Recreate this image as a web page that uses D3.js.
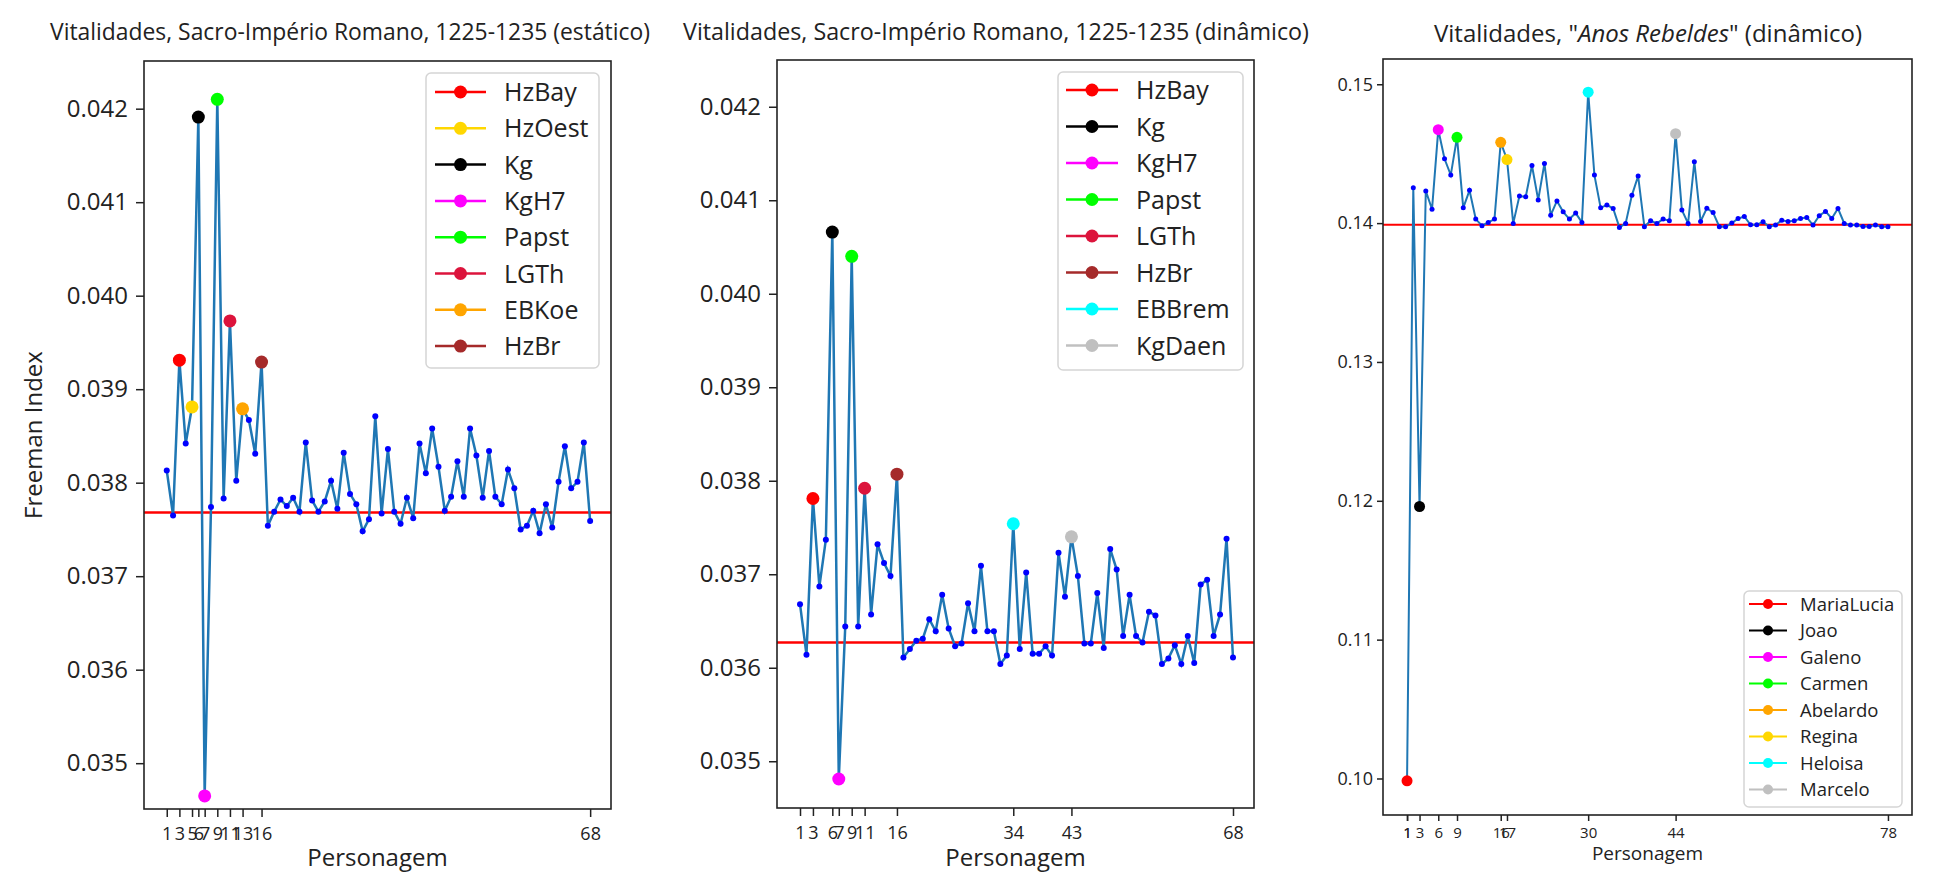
<!DOCTYPE html>
<html>
<head>
<meta charset="utf-8">
<script src="https://cdnjs.cloudflare.com/ajax/libs/d3/7.8.5/d3.min.js"></script>
<style>
body { margin: 0; background: #fff; }
text { font-family: "Open Sans", "Noto Sans", sans-serif; fill: #222; }
</style>
</head>
<body>
<script>
/* DATA */
// Sacro-Imperio Romano, estatico
var staticVals = [0.03813, 0.03765, 0.03931, 0.03842, 0.03881, 0.04191, 0.03465, 0.03774, 0.04210, 0.03783,
  0.03973, 0.03802, 0.03879, 0.03867, 0.03831, 0.03929, 0.03754, 0.03769, 0.03782, 0.03775,
  0.03784, 0.03769, 0.03843, 0.03781, 0.03769, 0.03780, 0.03802, 0.03772, 0.03832, 0.03788,
  0.03777, 0.03748, 0.03761, 0.03871, 0.03767, 0.03836, 0.03769, 0.03756, 0.03784, 0.03762,
  0.03842, 0.03810, 0.03858, 0.03817, 0.03770, 0.03785, 0.03823, 0.03785, 0.03858, 0.03829,
  0.03784, 0.03834, 0.03785, 0.03777, 0.03814, 0.03794, 0.03750, 0.03754, 0.03770, 0.03746,
  0.03777, 0.03752, 0.03801, 0.03839, 0.03794, 0.03801, 0.03843, 0.03759];
var staticMean = 0.03768;
var staticNames = ["HzBay", "HzOest", "Kg", "KgH7", "Papst", "LGTh", "EBKoe", "HzBr"];
var staticPos = [3, 5, 6, 7, 9, 11, 13, 16];
var staticColors = ["#ff0000", "#ffd700", "#000000", "#ff00ff", "#00ff00", "#dc143c", "#ffa500", "#a52a2a"];
var staticTicks = [1, 3, 5, 6, 7, 9, 11, 13, 16, 68];

// Sacro-Imperio Romano, dinamico
var dynVals = [0.03668, 0.03614, 0.03781, 0.03687, 0.03737, 0.04066, 0.03481, 0.03644, 0.04040, 0.03644,
  0.03792, 0.03657, 0.03732, 0.03712, 0.03698, 0.03807, 0.03611, 0.03620, 0.03629, 0.03631,
  0.03652, 0.03639, 0.03678, 0.03642, 0.03623, 0.03626, 0.03669, 0.03639, 0.03709, 0.03639,
  0.03639, 0.03604, 0.03613, 0.03754, 0.03620, 0.03702, 0.03615, 0.03615, 0.03623, 0.03613,
  0.03723, 0.03676, 0.03740, 0.03698, 0.03626, 0.03626, 0.03680, 0.03621, 0.03727, 0.03705,
  0.03634, 0.03678, 0.03634, 0.03627, 0.03660, 0.03656, 0.03604, 0.03610, 0.03624, 0.03604,
  0.03634, 0.03605, 0.03689, 0.03694, 0.03634, 0.03657, 0.03738, 0.03611];
var dynMean = 0.03627;
var dynNames = ["HzBay", "Kg", "KgH7", "Papst", "LGTh", "HzBr", "EBBrem", "KgDaen"];
var dynPos = [3, 6, 7, 9, 11, 16, 34, 43];
var dynColors = ["#ff0000", "#000000", "#ff00ff", "#00ff00", "#dc143c", "#a52a2a", "#00ffff", "#c0c0c0"];
var dynTicks = [1, 3, 6, 7, 9, 11, 16, 34, 43, 68];

// Anos Rebeldes, dinamico
var rebelVals = [0.09983, 0.14255, 0.11959, 0.14232, 0.14100, 0.14673, 0.14463, 0.14346, 0.14618, 0.14110,
  0.14236, 0.14029, 0.13981, 0.14005, 0.14029, 0.14582, 0.14458, 0.13998, 0.14196, 0.14189,
  0.14415, 0.14167, 0.14430, 0.14057, 0.14160, 0.14081, 0.14029, 0.14072, 0.14005, 0.14943,
  0.14346, 0.14110, 0.14131, 0.14105, 0.13969, 0.13998, 0.14200, 0.14339, 0.13974, 0.14017,
  0.13998, 0.14029, 0.14017, 0.14644, 0.14095, 0.13998, 0.14442, 0.14012, 0.14107, 0.14076,
  0.13974, 0.13974, 0.14000, 0.14033, 0.14048, 0.13988, 0.13988, 0.14010, 0.13974, 0.13986,
  0.14021, 0.14012, 0.14017, 0.14033, 0.14041, 0.13986, 0.14053, 0.14084, 0.14033, 0.14105,
  0.13998, 0.13986, 0.13986, 0.13976, 0.13976, 0.13986, 0.13974, 0.13974];
var rebelMean = 0.13988;
var rebelNames = ["MariaLucia", "Joao", "Galeno", "Carmen", "Abelardo", "Regina", "Heloisa", "Marcelo"];
var rebelPos = [1, 3, 6, 9, 16, 17, 30, 44];
var rebelColors = ["#ff0000", "#000000", "#ff00ff", "#00ff00", "#ffa500", "#ffd700", "#00ffff", "#c0c0c0"];
var rebelTicks = [1, 1, 3, 6, 9, 16, 17, 30, 44, 78];

var sacroYTicks = [0.035, 0.036, 0.037, 0.038, 0.039, 0.040, 0.041, 0.042];
var rebelYTicks = [0.10, 0.11, 0.12, 0.13, 0.14, 0.15];

var svg = d3.select('body').append('svg')
  .attr('width', 1935)
  .attr('height', 875);

function panel(o) {
  var x = d3.scaleLinear().domain(o.xDomain).range([o.left, o.right]);
  var y = d3.scaleLinear().domain(o.yDomain).range([o.bottom, o.top]);
  var g = svg.append('g');

  // axes
  var ax = g.append('g')
    .attr('transform', 'translate(0,' + o.bottom + ')')
    .call(d3.axisBottom(x).tickValues(o.xTicks).tickFormat(d3.format('d'))
      .tickSize(o.tickLen).tickPadding(o.xPad));
  var ay = g.append('g')
    .attr('transform', 'translate(' + o.left + ',0)')
    .call(d3.axisLeft(y).tickValues(o.yTicks).tickFormat(d3.format(o.yFmt))
      .tickSize(o.tickLen).tickPadding(o.yPad));
  [ax, ay].forEach(function (a) {
    a.select('.domain').remove();
    a.selectAll('line').attr('stroke', '#222').attr('stroke-width', 1.5);
    a.selectAll('text').style('font-family', '"Open Sans", sans-serif').attr('fill', '#222');
  });
  ax.selectAll('text').style('font-size', o.xFont + 'px');
  ay.selectAll('text').style('font-size', o.yFont + 'px');

  // mean line
  g.append('line')
    .attr('x1', o.left).attr('x2', o.right)
    .attr('y1', y(o.mean)).attr('y2', y(o.mean))
    .attr('stroke', 'red').attr('stroke-width', o.lw);

  // series
  var line = d3.line()
    .x(function (d, i) { return x(i + 1); })
    .y(function (d) { return y(d); });
  g.append('path')
    .datum(o.vals)
    .attr('d', line)
    .attr('fill', 'none')
    .attr('stroke', '#1f77b4')
    .attr('stroke-width', o.lw);
  g.selectAll('.dot')
    .data(o.vals)
    .enter().append('circle')
    .attr('class', 'dot')
    .attr('r', o.dotR)
    .attr('fill', '#0000ff')
    .attr('cx', function (d, i) { return x(i + 1); })
    .attr('cy', function (d) { return y(d); });

  // highlighted characters
  g.selectAll('.hl')
    .data(o.pos)
    .enter().append('circle')
    .attr('class', 'hl')
    .attr('r', o.bigR)
    .attr('fill', function (d, i) { return o.colors[i]; })
    .attr('cx', function (d) { return x(d); })
    .attr('cy', function (d) { return y(o.vals[d - 1]); });

  // frame
  g.append('rect')
    .attr('x', o.left).attr('y', o.top)
    .attr('width', o.right - o.left).attr('height', o.bottom - o.top)
    .attr('fill', 'none').attr('stroke', '#222').attr('stroke-width', 1.6);

  // legend
  var L = o.legend;
  var lg = g.append('g');
  lg.append('rect')
    .attr('x', L.x).attr('y', L.y)
    .attr('width', L.w).attr('height', L.h)
    .attr('rx', 5)
    .attr('fill', 'white').attr('fill-opacity', 0.8)
    .attr('stroke', '#d5d5d5').attr('stroke-width', 1.5);
  var row = lg.selectAll('.row')
    .data(o.names)
    .enter().append('g')
    .attr('transform', function (d, i) { return 'translate(0,' + (L.row0 + i * L.step) + ')'; });
  row.append('line')
    .attr('x1', L.lx1).attr('x2', L.lx2)
    .attr('stroke', function (d, i) { return o.colors[i]; })
    .attr('stroke-width', o.lw);
  row.append('circle')
    .attr('cx', (L.lx1 + L.lx2) / 2).attr('r', L.r)
    .attr('fill', function (d, i) { return o.colors[i]; });
  row.append('text')
    .attr('x', L.tx).attr('dy', '0.36em')
    .style('font-size', L.font + 'px')
    .text(function (d) { return d; });

  // labels
  g.append('text')
    .attr('x', (o.left + o.right) / 2).attr('y', o.xLabY)
    .attr('text-anchor', 'middle')
    .style('font-size', o.labFont + 'px')
    .text('Personagem');
  var t = g.append('text')
    .attr('x', o.titleX).attr('y', o.titleY)
    .attr('text-anchor', 'middle')
    .style('font-size', o.titleFont + 'px');
  if (o.titleLen) t.attr('textLength', o.titleLen).attr('lengthAdjust', 'spacingAndGlyphs');
  o.title.forEach(function (p) {
    t.append('tspan').style('font-style', p[1] ? 'italic' : 'normal').text(p[0]);
  });
}

panel({
  vals: staticVals, mean: staticMean, names: staticNames, pos: staticPos, colors: staticColors,
  xTicks: staticTicks, yTicks: sacroYTicks, yFmt: '.3f',
  xDomain: [-2.6, 71.3], yDomain: [0.03451, 0.04251],
  left: 144, right: 611, top: 61, bottom: 809,
  tickLen: 8, xPad: 10, yPad: 8, xFont: 18, yFont: 24,
  lw: 2.5, dotR: 3, bigR: 6.5,
  legend: { x: 426, y: 73, w: 173, h: 295, row0: 92, step: 36.3, lx1: 435, lx2: 486, r: 6.5, tx: 504, font: 25 },
  xLabY: 866, labFont: 24,
  title: [['Vitalidades, Sacro-Império Romano, 1225-1235 (estático)', false]],
  titleX: 350, titleY: 40, titleFont: 23, titleLen: 600
});

panel({
  vals: dynVals, mean: dynMean, names: dynNames, pos: dynPos, colors: dynColors,
  xTicks: dynTicks, yTicks: sacroYTicks, yFmt: '.3f',
  xDomain: [-2.56, 71.25], yDomain: [0.0345, 0.0425],
  left: 777, right: 1254, top: 60, bottom: 808,
  tickLen: 8, xPad: 10, yPad: 8, xFont: 18, yFont: 24,
  lw: 2.5, dotR: 3, bigR: 6.5,
  legend: { x: 1058, y: 72, w: 185, h: 298, row0: 90, step: 36.5, lx1: 1066, lx2: 1118, r: 6.5, tx: 1136, font: 25 },
  xLabY: 866, labFont: 24,
  title: [['Vitalidades, Sacro-Império Romano, 1225-1235 (dinâmico)', false]],
  titleX: 996, titleY: 40, titleFont: 23, titleLen: 626
});

panel({
  vals: rebelVals, mean: rebelMean, names: rebelNames, pos: rebelPos, colors: rebelColors,
  xTicks: rebelTicks, yTicks: rebelYTicks, yFmt: '.2f',
  xDomain: [-2.85, 81.85], yDomain: [0.09737, 0.15182],
  left: 1383, right: 1912, top: 59, bottom: 815,
  tickLen: 6, xPad: 6, yPad: 4, xFont: 15, yFont: 18,
  lw: 2, dotR: 2.5, bigR: 5.5,
  legend: { x: 1744, y: 591, w: 158, h: 216, row0: 604, step: 26.5, lx1: 1749, lx2: 1787, r: 5, tx: 1800, font: 18.5 },
  xLabY: 860, labFont: 19,
  title: [['Vitalidades, "', false], ['Anos Rebeldes', true], ['" (dinâmico)', false]],
  titleX: 1648, titleY: 42, titleFont: 24
});

// y label (only first panel)
svg.append('text')
  .attr('transform', 'translate(42,435) rotate(-90)')
  .attr('text-anchor', 'middle')
  .style('font-size', '24px')
  .text('Freeman Index');
</script>
</body>
</html>
